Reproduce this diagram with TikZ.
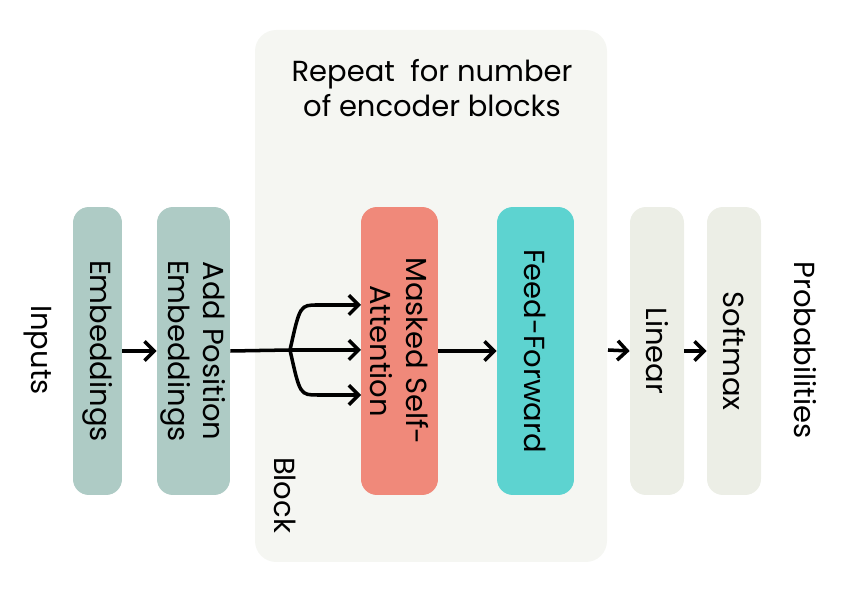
\documentclass[tikz,border=0pt]{standalone}
\usepackage{fontspec}
\setmainfont{Poppins}
\usetikzlibrary{arrows.meta}
\definecolor{bgblock}{HTML}{F5F6F2}
\definecolor{embcol}{HTML}{AECBC5}
\definecolor{attcol}{HTML}{F0897A}
\definecolor{ffcol}{HTML}{5DD3D0}
\definecolor{outcol}{HTML}{ECEEE6}
\tikzset{
  layer/.style={draw=none, rounded corners=9pt, rotate=-90, minimum width=5.76cm,
    align=center, inner sep=0pt, font=\fontsize{16.5}{20}\selectfont},
  lbl/.style={rotate=-90, font=\fontsize{16.5}{20}\selectfont},
  flow/.style={line width=2pt, -{Straight Barb[length=5.5pt,width=11pt]}}
}
\begin{document}
\begin{tikzpicture}[x=0.02cm,y=-0.02cm]
	%Frame
	\useasboundingbox (0,0) rectangle (852,590);
	\fill[bgblock, rounded corners=12pt] (255,30) rectangle (607,562);
	\node[align=center, font=\fontsize{16.5}{20}\selectfont] (title) at (432,88) {Repeat\ \ for number\\of encoder blocks};
	\node[lbl] (block) at (285,495) {Block};
	%Layers
	\node[layer, fill=embcol, minimum height=0.98cm] (emb) at (97.5,351) {Embeddings};
	\node[layer, fill=embcol, minimum height=1.46cm] (pos) at (193.5,351) {Add Position\\Embeddings};
	\node[layer, fill=attcol, minimum height=1.54cm] (att) at (399.5,351) {Masked Self-\\Attention};
	\node[layer, fill=ffcol, minimum height=1.54cm] (ff) at (535.5,351) {Feed-Forward};
	\node[layer, fill=outcol, minimum height=1.08cm] (lin) at (657,351) {Linear};
	\node[layer, fill=outcol, minimum height=1.08cm] (soft) at (734,351) {Softmax};
	\node[lbl] (inp) at (38,350) {Inputs};
	\node[lbl] (prob) at (805,350) {Probabilities};
	%Arrows
	\coordinate (split) at (290,350);
	\coordinate (qin) at (361,305);
	\coordinate (kin) at (361,350);
	\coordinate (vin) at (361,395);
	\coordinate (blkout) at (608,350);
	\draw[flow] (emb.north) -- (pos.south);
	\draw[line width=2pt] (pos.north) -- (split);
	\draw[flow] (split) .. controls (300,305) .. (318,305) -- (qin);
	\draw[flow] (split) -- (kin);
	\draw[flow] (split) .. controls (300,395) .. (318,395) -- (vin);
	\draw[flow] (att.north) -- (ff.south);
	\draw[flow] (blkout) -- (lin.south);
	\draw[flow] (lin.north) -- (soft.south);
\end{tikzpicture}
\end{document}
